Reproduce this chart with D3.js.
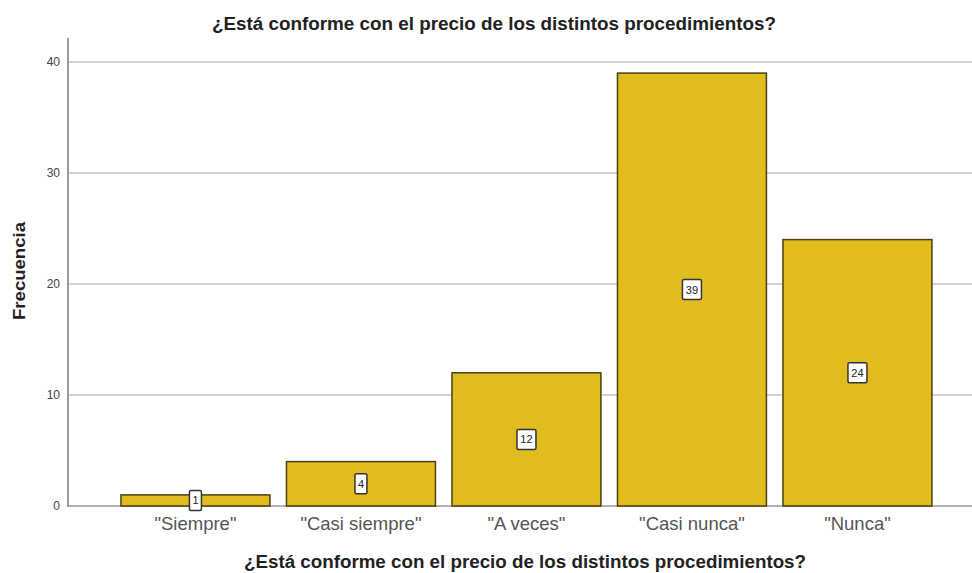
<!DOCTYPE html>
<html>
<head>
<meta charset="utf-8">
<script src="https://cdn.jsdelivr.net/npm/d3@7/dist/d3.min.js"></script>
<style>
  html, body { margin: 0; padding: 0; background: #fff; }
  svg { display: block; }
</style>
</head>
<body>
<svg id="chart" width="972" height="573"></svg>
<script>
// Response categories and their counts
const categories = ['"Siempre"', '"Casi siempre"', '"A veces"', '"Casi nunca"', '"Nunca"'];
const frequencies = [1, 4, 12, 39, 24];
const yTicks = [0, 10, 20, 30, 40];
const chartTitle = "¿Está conforme con el precio de los distintos procedimientos?";
const xTitle = "¿Está conforme con el precio de los distintos procedimientos?";
const yTitle = "Frecuencia";

const svg = d3.select("#chart");
const W = 972, H = 573;
const axisX = 68, axisBottom = 506, axisTop = 38;
const font = "Liberation Sans, Arial, sans-serif";

const x = d3.scaleBand()
  .domain(categories)
  .range([112.7, 940.2])
  .paddingInner(0.1)
  .paddingOuter(0.05);

const y = d3.scaleLinear()
  .domain([0, 40])
  .range([axisBottom, 62]);

// Horizontal grid lines
svg.append("g")
  .selectAll("line")
  .data(yTicks.filter(t => t > 0))
  .join("line")
  .attr("x1", axisX).attr("x2", W)
  .attr("y1", d => y(d)).attr("y2", d => y(d))
  .attr("stroke", "#d4d4d4")
  .attr("stroke-width", 2);

// Y axis with tick labels
const yAxis = svg.append("g")
  .attr("transform", `translate(${axisX},0)`)
  .call(d3.axisLeft(y).tickValues(yTicks).tickSize(0).tickPadding(8));
yAxis.select(".domain").remove();
yAxis.selectAll("text")
  .attr("font-family", font)
  .attr("font-size", 12)
  .attr("fill", "#444");

svg.append("line")
  .attr("x1", axisX).attr("x2", axisX)
  .attr("y1", axisTop).attr("y2", axisBottom + 1)
  .attr("stroke", "#9a9a9a").attr("stroke-width", 2);

// Baseline
svg.append("line")
  .attr("x1", axisX).attr("x2", W)
  .attr("y1", axisBottom).attr("y2", axisBottom)
  .attr("stroke", "#9a9a9a").attr("stroke-width", 1.5);

// Bars
svg.append("g")
  .selectAll("rect")
  .data(frequencies)
  .join("rect")
  .attr("x", (d, i) => x(categories[i]))
  .attr("width", x.bandwidth())
  .attr("y", d => y(d))
  .attr("height", d => y(0) - y(d))
  .attr("fill", "#e1bc1f")
  .attr("stroke", "#4a3e12")
  .attr("stroke-width", 1.5);

// Value labels in boxes at mid-height of each bar
const lbl = svg.append("g")
  .selectAll("g")
  .data(frequencies)
  .join("g")
  .attr("transform", (d, i) => `translate(${x(categories[i]) + x.bandwidth() / 2},${y(d / 2)})`);

lbl.append("rect")
  .attr("x", d => String(d).length > 1 ? -9.5 : -6)
  .attr("width", d => String(d).length > 1 ? 19 : 12)
  .attr("y", -10)
  .attr("height", 20)
  .attr("rx", 1.5)
  .attr("fill", "#fff")
  .attr("stroke", "#333")
  .attr("stroke-width", 1.5);

lbl.append("text")
  .attr("text-anchor", "middle")
  .attr("dy", "0.36em")
  .attr("font-family", font)
  .attr("font-size", 11)
  .attr("fill", "#222")
  .text(d => d);

// Category labels
svg.append("g")
  .selectAll("text")
  .data(categories)
  .join("text")
  .attr("x", d => x(d) + x.bandwidth() / 2)
  .attr("y", 530)
  .attr("text-anchor", "middle")
  .attr("font-family", font)
  .attr("font-size", 18.5)
  .attr("fill", "#555")
  .text(d => d);

// Titles
svg.append("text")
  .attr("x", 494).attr("y", 30)
  .attr("text-anchor", "middle")
  .attr("font-family", font)
  .attr("font-weight", "bold")
  .attr("font-size", 17.5)
  .attr("textLength", 564)
  .attr("lengthAdjust", "spacingAndGlyphs")
  .attr("fill", "#222")
  .text(chartTitle);

svg.append("text")
  .attr("x", 525).attr("y", 568)
  .attr("text-anchor", "middle")
  .attr("font-family", font)
  .attr("font-weight", "bold")
  .attr("font-size", 17.5)
  .attr("textLength", 562)
  .attr("lengthAdjust", "spacingAndGlyphs")
  .attr("fill", "#222")
  .text(xTitle);

svg.append("text")
  .attr("transform", "translate(25,271) rotate(-90)")
  .attr("text-anchor", "middle")
  .attr("font-family", font)
  .attr("font-weight", "bold")
  .attr("font-size", 17)
  .attr("textLength", 98)
  .attr("lengthAdjust", "spacingAndGlyphs")
  .attr("fill", "#222")
  .text(yTitle);
</script>
</body>
</html>
